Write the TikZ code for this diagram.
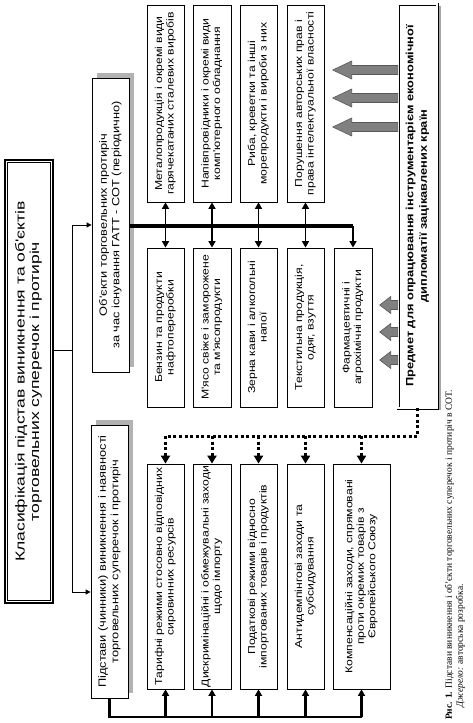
\documentclass[tikz,border=0pt]{standalone}
\usepackage{fontspec}
\setmainfont{Liberation Serif}
\newfontfamily\df[FakeStretch=1.22]{Liberation Sans}
\newfontfamily\dfm[FakeStretch=1.35]{Liberation Sans}
\usetikzlibrary{arrows.meta,calc,shadows}
\newcommand{\rt}[1]{\rotatebox{90}{\begin{tabular}{@{}c@{}}#1\end{tabular}}}
\begin{document}
\begin{tikzpicture}[x=1pt,y=-1pt,
  box/.style={draw, line width=0.8pt, fill=white, inner sep=0pt,
    font=\df\fontsize{10pt}{11.5pt}\selectfont},
  sbox/.style={box, font=\df\fontsize{10.5pt}{12.5pt}\selectfont,
    general shadow={shadow xshift=5pt, shadow yshift=5pt, fill=black!30}},
  arr/.style={line width=1.6pt, -{Triangle[length=6.5pt,width=7pt]}},
  darr/.style={line width=1.6pt, {Triangle[length=6.5pt,width=7pt]}-{Triangle[length=6.5pt,width=7pt]}},
  tarr/.style={line width=0.8pt, -{Triangle[length=5pt,width=5pt]}},
  dots/.style={line width=3pt, dash pattern=on 3pt off 2.6pt},
  darrow/.style={dots, -{Triangle[length=8pt,width=9pt]}},
  barr/.style={fill=black!50, draw=black!65, line width=0.6pt}
]
\useasboundingbox (0,0) rectangle (473,723);

% main box
\node[box, line width=2pt, minimum width=48pt, minimum height=443pt,
  font=\dfm\fontsize{13pt}{14.5pt}\selectfont] (M) at (29,381.5)
  {\rt{Класифікація підстав виникнення та об'єктів\\торговельних суперечок і протиріч}};
\draw[line width=0.7pt] ($(M.north west)+(3.5,3.5)$) rectangle ($(M.south east)+(-3.5,-3.5)$);

% second level
\node[sbox, minimum width=37pt, minimum height=294pt] (O) at (110.5,225)
  {\rt{Об'єкти торговельних протиріч\\за час існування ГАТТ - СОТ (періодично)}};
\node[sbox, minimum width=37pt, minimum height=273pt] (P) at (109.5,561.5)
  {\rt{Підстави (чинники) виникнення і наявності\\торговельних суперечок і протиріч}};

% top row
\node[box, minimum width=37pt, minimum height=197pt] (T1) at (165.5,103.5)
  {\rt{Металопродукція і окремі види\\гарячекатаних сталевих виробів}};
\node[box, minimum width=38pt, minimum height=197pt] (T2) at (212,103.5)
  {\rt{Напівпровідники і окремі види\\комп'ютерного обладнання}};
\node[box, minimum width=37pt, minimum height=197pt] (T3) at (258.5,103.5)
  {\rt{Риба, креветки та інші\\морепродукти і вироби з них}};
\node[box, minimum width=37pt, minimum height=197pt] (T4) at (305.5,103.5)
  {\rt{Порушення авторських прав і\\права інтелектуальної власності}};

% second row
\node[box, minimum width=37pt, minimum height=159pt] (B1) at (165.5,327.5)
  {\rt{Бензин та продукти\\нафтопереробки}};
\node[box, minimum width=38pt, minimum height=159pt] (B2) at (212,327.5)
  {\rt{М'ясо свіже і заморожене\\та м'ясопродукти}};
\node[box, minimum width=37pt, minimum height=159pt] (B3) at (258.5,327.5)
  {\rt{Зерна кави і алкогольні\\напої}};
\node[box, minimum width=37pt, minimum height=159pt] (B4) at (305.5,327.5)
  {\rt{Текстильна продукція,\\одяг, взуття}};
\node[box, minimum width=38pt, minimum height=159pt] (B5) at (353,327.5)
  {\rt{Фармацевтичні і\\агрохімічні продукти}};

% lower row
\node[box, minimum width=37pt, minimum height=225pt] (D1) at (165.5,576.5)
  {\rt{Тарифні режими стосовно відповідних\\сировинних ресурсів}};
\node[box, minimum width=38pt, minimum height=225pt] (D2) at (212,576.5)
  {\rt{Дискримінаційні і обмежувальні заходи\\щодо імпорту}};
\node[box, minimum width=37pt, minimum height=225pt] (D3) at (258.5,576.5)
  {\rt{Податкові режими відносно\\імпортованих товарів і продуктів}};
\node[box, minimum width=37pt, minimum height=225pt] (D4) at (305.5,576.5)
  {\rt{Антидемпінгові заходи та\\субсидування}};
\node[box, minimum width=57pt, minimum height=225pt] (D5) at (361.5,576.5)
  {\rt{Компенсаційні заходи, спрямовані\\проти окремих товарів з\\Європейського Союзу}};

% big subject box
\node[box, double, double distance=1.8pt, line width=0.6pt, minimum width=39pt, minimum height=404pt,
  font=\df\bfseries\fontsize{10.5pt}{13.5pt}\selectfont,
  general shadow={shadow xshift=3.5pt, shadow yshift=-2pt, fill=black!35}] (Q) at (417.5,206)
  {\rt{Предмет для опрацювання інструментарієм економічної\\дипломатії зацікавлених країн}};

% block arrows
\foreach \yy in {70,98,127}{
  \draw[barr] (Q.west |- 0,\yy) ++(0,-4.5) -- ++(-46,0) -- ++(0,-4.5) -- ++(-19,9) -- ++(19,9) -- ++(0,-4.5) -- ++(46,0) -- cycle;
}
\foreach \yy in {305,332,360}{
  \draw[barr] (Q.west |- 0,\yy) ++(0,-4.5) -- ++(-7,0) -- ++(0,-4) -- ++(-11,8.5) -- ++(11,8.5) -- ++(0,-4) -- ++(7,0) -- cycle;
}

% left bracket
\coordinate (jm) at (72,350);
\coordinate (jo) at (jm |- O.west);
\coordinate (jp) at (72,592);
\draw[line width=0.8pt] (M.east |- jm) -- (jm);
\draw[line width=0.8pt] (jo) -- (jp);
\draw[tarr] (jo) -- (O.west);
\draw[tarr] (jp) -- (P.west |- jp);

% thick bus from O
\coordinate (hb) at (B5.north |- 0,226);
\draw[line width=3.2pt] (O.east |- hb) -- (hb);
\foreach \i in {1,2,3,4}{
  \draw[darr] (T\i.south) -- (B\i.north);
}
\draw[arr] (hb) -- (B5.north);

% dotted bus from Q
\coordinate (dl) at (D1.north |- 0,436);
\draw[dots] (Q.south) |- (dl);
\foreach \i in {1,2,3,4,5}{
  \draw[darrow] (D\i.north |- dl) -- (D\i.north);
}

% bottom bus from P
\coordinate (bl) at (P.south |- 0,717);
\draw[line width=2.2pt] (P.south) -- (bl) -- (D5.south |- bl);
\foreach \i in {1,2,3,4,5}{
  \draw[arr, line width=2.2pt] (D\i.south |- bl) -- (D\i.south);
}

% caption
\node[anchor=south west, inner sep=0pt, font=\fontsize{9.5pt}{11pt}\selectfont] (cap) at (444,720)
  {\rotatebox{90}{\begin{tabular}{@{}l@{}}\textbf{Рис. 1.} Підстави виникнення і об'єкти торговельних суперечок і протиріч в СОТ.\\
  \hspace{1.3em}\textit{Джерело:} авторська розробка.\end{tabular}}};
\end{tikzpicture}
\end{document}
